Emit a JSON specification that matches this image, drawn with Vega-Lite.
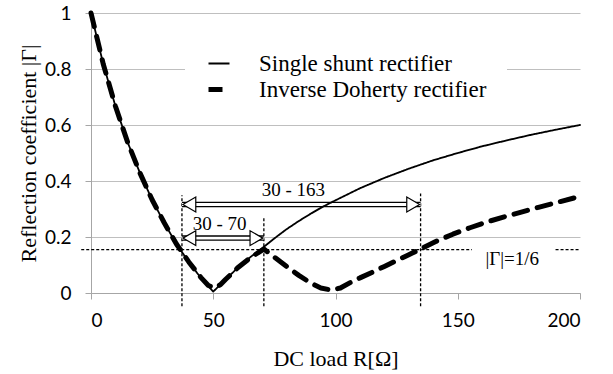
{
  "$schema": "https://vega.github.io/schema/vega-lite/v6.json",
  "width": 489,
  "height": 280,
  "autosize": {"type": "none"},
  "padding": {"left": 91, "top": 13, "right": 33, "bottom": 81},
  "background": "white",
  "config": {
    "view": {"stroke": null},
    "font": "Liberation Serif",
    "axisX": {"grid": false, "domainColor": "#a6a6a6", "tickColor": "#a6a6a6", "tickSize": 6, "labelFont": "Lato", "labelFontSize": 19, "labelColor": "black", "labelPadding": 12, "titleFont": "Liberation Serif", "titleFontSize": 22, "titleFontWeight": "normal", "titleColor": "black", "titlePadding": 18},
    "axisY": {"grid": true, "gridColor": "#bfbfbf", "domainColor": "#a6a6a6", "tickColor": "#a6a6a6", "tickSize": 6, "labelFont": "Lato", "labelFontSize": 19, "labelColor": "black", "labelPadding": 14, "titleFont": "Liberation Serif", "titleFontSize": 22, "titleFontWeight": "normal", "titleColor": "black", "titlePadding": 4}
  },
  "datasets": {
    "curves": [
      {"series": "Single shunt rectifier", "R": 0, "G": 1},
      {"series": "Single shunt rectifier", "R": 5, "G": 0.818},
      {"series": "Single shunt rectifier", "R": 10, "G": 0.667},
      {"series": "Single shunt rectifier", "R": 15, "G": 0.538},
      {"series": "Single shunt rectifier", "R": 20, "G": 0.429},
      {"series": "Single shunt rectifier", "R": 25, "G": 0.333},
      {"series": "Single shunt rectifier", "R": 30, "G": 0.25},
      {"series": "Single shunt rectifier", "R": 35, "G": 0.174},
      {"series": "Single shunt rectifier", "R": 40, "G": 0.111},
      {"series": "Single shunt rectifier", "R": 45, "G": 0.053},
      {"series": "Single shunt rectifier", "R": 50, "G": 0.005},
      {"series": "Single shunt rectifier", "R": 55, "G": 0.048},
      {"series": "Single shunt rectifier", "R": 60, "G": 0.09},
      {"series": "Single shunt rectifier", "R": 65, "G": 0.127},
      {"series": "Single shunt rectifier", "R": 70, "G": 0.16},
      {"series": "Single shunt rectifier", "R": 75, "G": 0.195},
      {"series": "Single shunt rectifier", "R": 80, "G": 0.228},
      {"series": "Single shunt rectifier", "R": 85, "G": 0.257},
      {"series": "Single shunt rectifier", "R": 90, "G": 0.284},
      {"series": "Single shunt rectifier", "R": 95, "G": 0.309},
      {"series": "Single shunt rectifier", "R": 100, "G": 0.331},
      {"series": "Single shunt rectifier", "R": 110, "G": 0.374},
      {"series": "Single shunt rectifier", "R": 120, "G": 0.411},
      {"series": "Single shunt rectifier", "R": 130, "G": 0.444},
      {"series": "Single shunt rectifier", "R": 140, "G": 0.474},
      {"series": "Single shunt rectifier", "R": 150, "G": 0.5},
      {"series": "Single shunt rectifier", "R": 160, "G": 0.524},
      {"series": "Single shunt rectifier", "R": 170, "G": 0.545},
      {"series": "Single shunt rectifier", "R": 180, "G": 0.565},
      {"series": "Single shunt rectifier", "R": 190, "G": 0.583},
      {"series": "Single shunt rectifier", "R": 200, "G": 0.6},
      {"series": "Inverse Doherty rectifier", "R": 0, "G": 1},
      {"series": "Inverse Doherty rectifier", "R": 5, "G": 0.818},
      {"series": "Inverse Doherty rectifier", "R": 10, "G": 0.667},
      {"series": "Inverse Doherty rectifier", "R": 15, "G": 0.538},
      {"series": "Inverse Doherty rectifier", "R": 20, "G": 0.429},
      {"series": "Inverse Doherty rectifier", "R": 25, "G": 0.333},
      {"series": "Inverse Doherty rectifier", "R": 30, "G": 0.25},
      {"series": "Inverse Doherty rectifier", "R": 35, "G": 0.174},
      {"series": "Inverse Doherty rectifier", "R": 40, "G": 0.111},
      {"series": "Inverse Doherty rectifier", "R": 45, "G": 0.055},
      {"series": "Inverse Doherty rectifier", "R": 48, "G": 0.027},
      {"series": "Inverse Doherty rectifier", "R": 50.5, "G": 0.018},
      {"series": "Inverse Doherty rectifier", "R": 53, "G": 0.03},
      {"series": "Inverse Doherty rectifier", "R": 55, "G": 0.048},
      {"series": "Inverse Doherty rectifier", "R": 60, "G": 0.09},
      {"series": "Inverse Doherty rectifier", "R": 65, "G": 0.125},
      {"series": "Inverse Doherty rectifier", "R": 70.7, "G": 0.157},
      {"series": "Inverse Doherty rectifier", "R": 75, "G": 0.128},
      {"series": "Inverse Doherty rectifier", "R": 80, "G": 0.095},
      {"series": "Inverse Doherty rectifier", "R": 85, "G": 0.063},
      {"series": "Inverse Doherty rectifier", "R": 90, "G": 0.035},
      {"series": "Inverse Doherty rectifier", "R": 94, "G": 0.018},
      {"series": "Inverse Doherty rectifier", "R": 98.5, "G": 0.01},
      {"series": "Inverse Doherty rectifier", "R": 102, "G": 0.018},
      {"series": "Inverse Doherty rectifier", "R": 106, "G": 0.037},
      {"series": "Inverse Doherty rectifier", "R": 110, "G": 0.054},
      {"series": "Inverse Doherty rectifier", "R": 115, "G": 0.074},
      {"series": "Inverse Doherty rectifier", "R": 120, "G": 0.095},
      {"series": "Inverse Doherty rectifier", "R": 125, "G": 0.116},
      {"series": "Inverse Doherty rectifier", "R": 130, "G": 0.137},
      {"series": "Inverse Doherty rectifier", "R": 135, "G": 0.158},
      {"series": "Inverse Doherty rectifier", "R": 141, "G": 0.184},
      {"series": "Inverse Doherty rectifier", "R": 148, "G": 0.21},
      {"series": "Inverse Doherty rectifier", "R": 155, "G": 0.233},
      {"series": "Inverse Doherty rectifier", "R": 162, "G": 0.254},
      {"series": "Inverse Doherty rectifier", "R": 169, "G": 0.272},
      {"series": "Inverse Doherty rectifier", "R": 176, "G": 0.289},
      {"series": "Inverse Doherty rectifier", "R": 183, "G": 0.306},
      {"series": "Inverse Doherty rectifier", "R": 190, "G": 0.322},
      {"series": "Inverse Doherty rectifier", "R": 200, "G": 0.345}
    ],
    "vguides": [
      {"R": 37.2, "G": -0.0475, "G2": 0.349},
      {"R": 70.7, "G": -0.0475, "G2": 0.271},
      {"R": 134.8, "G": -0.0475, "G2": 0.355}
    ],
    "hguides": [
      {"R": -4, "R2": 155.8, "G": 0.155},
      {"R": 190, "R2": 200, "G": 0.155}
    ],
    "arrows": [
      {"R": 37.2, "R2": 134.8, "G": 0.316},
      {"R": 37.2, "R2": 70.7, "G": 0.196}
    ],
    "labels": [
      {"R": 82.8, "G": 0.345, "label": "30 - 163"},
      {"R": 52.6, "G": 0.224, "label": "30 - 70"},
      {"R": 172.3, "G": 0.099, "label": "|Γ|=1/6"}
    ]
  },
  "encoding": {
    "x": {"field": "R", "type": "quantitative", "title": "DC load R[Ω]", "scale": {"domain": [0, 200], "nice": false, "zero": false}, "axis": {"values": [0, 50, 100, 150, 200]}},
    "y": {"field": "G", "type": "quantitative", "title": "Reflection coefficient |Γ|", "scale": {"domain": [0, 1], "nice": false, "zero": false}, "axis": {"values": [0, 0.2, 0.4, 0.6, 0.8, 1], "format": "~g"}}
  },
  "layer": [
    {
      "data": {"name": "vguides"},
      "mark": {"type": "rule", "color": "black", "strokeWidth": 1.3, "strokeDash": [3, 2]},
      "encoding": {"y2": {"field": "G2"}}
    },
    {
      "data": {"name": "hguides"},
      "mark": {"type": "rule", "color": "black", "strokeWidth": 1.3, "strokeDash": [3, 2]},
      "encoding": {"x2": {"field": "R2"}}
    },
    {
      "data": {"name": "arrows"},
      "mark": {"type": "rule", "color": "black", "strokeWidth": 5.5},
      "encoding": {"x2": {"field": "R2"}}
    },
    {
      "data": {"name": "arrows"},
      "mark": {"type": "rule", "color": "white", "strokeWidth": 2.8},
      "encoding": {"x2": {"field": "R2"}}
    },
    {
      "data": {"name": "arrows"},
      "mark": {"type": "point", "shape": "triangle-left", "filled": true, "fill": "white", "stroke": "black", "strokeWidth": 1.2, "size": 220, "opacity": 1, "xOffset": 7.4},
      "encoding": {}
    },
    {
      "data": {"name": "arrows"},
      "mark": {"type": "point", "shape": "triangle-right", "filled": true, "fill": "white", "stroke": "black", "strokeWidth": 1.2, "size": 220, "opacity": 1, "xOffset": -7.4},
      "encoding": {"x": {"field": "R2", "type": "quantitative", "title": "DC load R[Ω]", "scale": {"domain": [0, 200], "nice": false, "zero": false}, "axis": {"values": [0, 50, 100, 150, 200]}}}
    },
    {
      "data": {"name": "curves"},
      "mark": {"type": "line", "color": "black", "strokeCap": "round", "strokeJoin": "round"},
      "encoding": {
        "strokeDash": {
          "field": "series", "type": "nominal",
          "scale": {"domain": ["Single shunt rectifier", "Inverse Doherty rectifier"], "range": [[1, 0], [14, 10]]},
          "legend": {"orient": "none", "legendX": 94, "legendY": 19, "title": null, "symbolType": "M-1.6,0L2.6,0", "symbolSize": 100, "symbolStrokeColor": "black", "labelFont": "Liberation Serif", "labelFontSize": 23, "labelColor": "black", "labelOffset": 31, "labelLimit": 400, "fillColor": "white", "padding": 20, "rowPadding": 2}
        },
        "strokeWidth": {
          "field": "series", "type": "nominal",
          "scale": {"type": "point", "domain": ["Single shunt rectifier", "Inverse Doherty rectifier"], "range": [1.8, 5], "padding": 0},
          "legend": {"orient": "none", "legendX": 94, "legendY": 19, "title": null, "symbolType": "M-1.6,0L2.6,0", "symbolSize": 100, "symbolStrokeColor": "black", "labelFont": "Liberation Serif", "labelFontSize": 23, "labelColor": "black", "labelOffset": 31, "labelLimit": 400, "fillColor": "white", "padding": 20, "rowPadding": 2}
        }
      }
    },
    {
      "data": {"name": "labels"},
      "mark": {"type": "text", "font": "Liberation Serif", "fontSize": 19, "align": "center", "baseline": "alphabetic", "color": "black"},
      "encoding": {"text": {"field": "label"}}
    }
  ]
}
